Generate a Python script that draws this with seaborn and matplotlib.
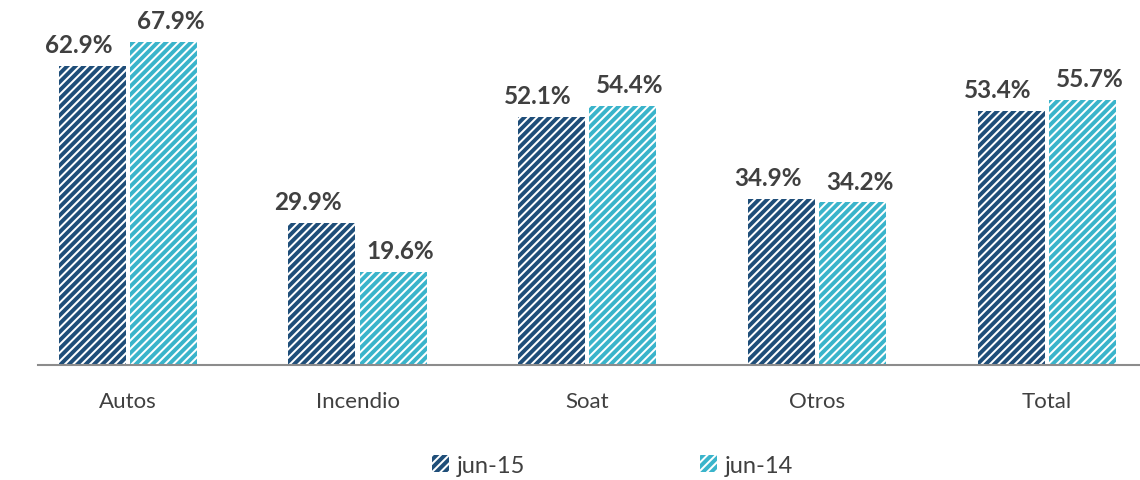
import matplotlib
matplotlib.use("Agg")
import matplotlib.pyplot as plt
import seaborn as sns
import pandas as pd
from matplotlib.patches import Patch

categories = ["Autos", "Incendio", "Soat", "Otros", "Total"]
series_names = ["jun-15", "jun-14"]
jun15 = [62.9, 29.9, 52.1, 34.9, 53.4]
jun14 = [67.9, 19.6, 54.4, 34.2, 55.7]
colors = ["#1F4E79", "#3AB4CB"]

df = pd.DataFrame({
    "cat": categories * 2,
    "serie": [series_names[0]] * 5 + [series_names[1]] * 5,
    "val": jun15 + jun14,
})

sns.set_theme(style="white")
plt.rcParams["font.family"] = ["Lato", "DejaVu Sans"]
plt.rcParams["hatch.linewidth"] = 2.8

fig = plt.figure(figsize=(11.4, 4.81), dpi=100)
ax = fig.add_axes([38 / 1140, (481 - 366) / 481, 1 - 38 / 1140, 366 / 481])

sns.barplot(data=df, x="cat", y="val", hue="serie", order=categories,
            hue_order=series_names, palette=colors, width=0.62, gap=0.06,
            ax=ax, legend=False)

for i, container in enumerate(ax.containers):
    for bar in container:
        bar.set_facecolor("white")
        bar.set_edgecolor(colors[i])
        bar.set_hatch("////")
        bar.set_linewidth(0)
    offs = [-10, 5][i]
    for bar in container:
        h = bar.get_height()
        ax.annotate(f"{h:.1f}%", (bar.get_x() + bar.get_width() / 2, h),
                    xytext=(offs, 7), textcoords="offset points",
                    ha="center", va="bottom", fontsize=17.5, fontweight="bold",
                    color="#404040")

ax.set_ylim(0, 76.9)
ax.set_xlim(-0.391, 4.406)
ax.set_xlabel("")
ax.set_ylabel("")
ax.set_yticks([])
for s in ["top", "right", "left"]:
    ax.spines[s].set_visible(False)
ax.spines["bottom"].set_color("#8C8C8C")
ax.spines["bottom"].set_linewidth(1.5)
ax.tick_params(axis="x", length=0, pad=19, labelsize=16, labelcolor="#404040")

handles = [Patch(facecolor="white", edgecolor=c, hatch="////", linewidth=0) for c in colors]
fig.legend(handles, series_names, loc="center", bbox_to_anchor=(0.537, 0.03),
           ncol=2, frameon=False, fontsize=17, columnspacing=7.4,
           handlelength=0.75, handleheight=0.75, handletextpad=0.3,
           labelcolor="#404040")

fig.savefig("out.png", dpi=100)
